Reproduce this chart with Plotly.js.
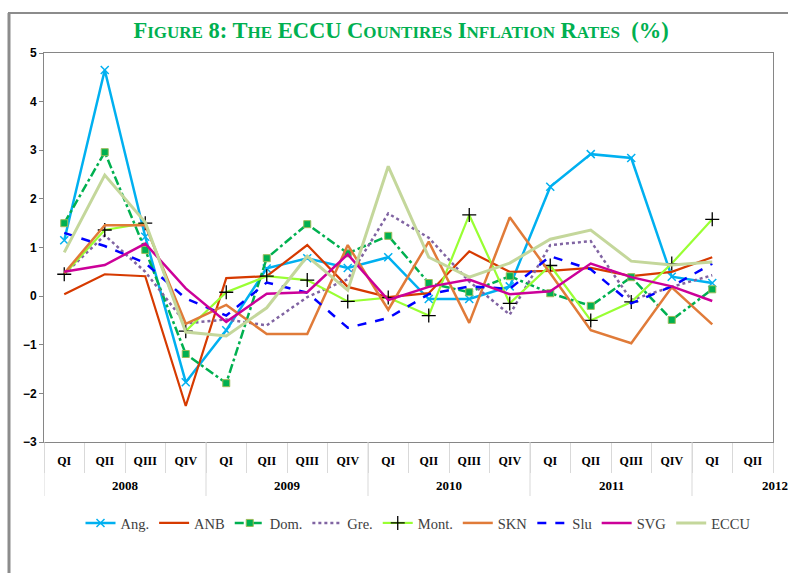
<!DOCTYPE html>
<html>
<head>
<meta charset="utf-8">
<script src="https://cdn.plot.ly/plotly-3.0.1.min.js"></script>
<style>html,body{margin:0;padding:0;background:#fff;}#chart{width:788px;height:573px;}</style>
</head>
<body>
<div id="chart"></div>
<script>
// Quarter labels (18 categories, 2008 QI .. 2012 QII)
const quarters = ["QI","QII","QIII","QIV","QI","QII","QIII","QIV","QI","QII","QIII","QIV","QI","QII","QIII","QIV","QI","QII"];
const years = ["2008","2009","2010","2011","2012"];
const yearCenters = [1.5, 5.5, 9.5, 13.5, 17.4];
const yearShift = [0, 0, 0, 0, 6];

// Series values (%), 2008 QI .. 2012 QI
const ang  = [1.15, 4.65, 1.22, -1.77, -0.70, 0.57, 0.78, 0.58, 0.80, -0.06, -0.06, 0.20, 2.25, 2.92, 2.84, 0.40, 0.27];
const anb  = [0.04, 0.45, 0.41, -2.26, 0.37, 0.41, 1.05, 0.19, -0.02, 0.06, 0.92, 0.50, 0.52, 0.58, 0.41, 0.50, 0.80];
const dom  = [1.50, 2.96, 0.95, -1.19, -1.79, 0.78, 1.48, 0.88, 1.24, 0.27, 0.08, 0.41, 0.06, -0.20, 0.39, -0.49, 0.14];
const gre  = [0.45, 1.25, 0.50, -0.56, -0.48, -0.60, -0.02, 0.35, 1.70, 1.20, 0.30, -0.38, 1.05, 1.13, -0.08, 0.19, 0.43];
const mont = [0.45, 1.36, 1.50, -0.72, 0.08, 0.41, 0.33, -0.11, -0.03, -0.40, 1.67, -0.15, 0.63, -0.50, -0.12, 0.67, 1.58];
const skn  = [0.47, 1.46, 1.46, -0.57, -0.18, -0.78, -0.78, 1.05, -0.28, 1.12, -0.55, 1.62, 0.47, -0.70, -0.97, 0.18, -0.58];
const slu  = [1.30, 1.03, 0.68, -0.05, -0.40, 0.28, 0.07, -0.65, -0.45, 0.04, 0.20, 0.15, 0.82, 0.55, -0.15, 0.20, 0.67];
const svg  = [0.50, 0.64, 1.08, 0.16, -0.53, 0.05, 0.08, 0.86, -0.08, 0.19, 0.34, 0.04, 0.10, 0.67, 0.39, 0.20, -0.10];
const eccu = [0.90, 2.49, 1.52, -0.74, -0.82, -0.24, 0.82, 0.12, 2.67, 0.80, 0.39, 0.68, 1.17, 1.36, 0.72, 0.64, 0.70];

const seriesNames = ["Ang.","ANB","Dom.","Gre.","Mont.","SKN","Slu","SVG","ECCU"];

const idx = quarters.map((q,i)=>i);
const xs = ang.map((v,i)=>i);

function tr(name, y, line, marker){
  const t = {type:'scatter', x: xs, y: y, name: name, line: line, mode: marker ? 'lines+markers' : 'lines'};
  if (marker) t.marker = marker;
  return t;
}

const traces = [
  tr(seriesNames[0], ang,  {color:'#00B0F0', width:2.5}, {symbol:'x-thin-open', size:8, color:'#00B0F0', line:{color:'#00B0F0', width:1.5}}),
  tr(seriesNames[1], anb,  {color:'#D63A00', width:2.2}),
  tr(seriesNames[2], dom,  {color:'#00B050', width:2.5, dash:'dashdot'}, {symbol:'square', size:7, color:'#00B050', line:{color:'#9BBB59', width:1}}),
  tr(seriesNames[3], gre,  {color:'#8064A2', width:2.5, dash:'dot'}),
  tr(seriesNames[4], mont, {color:'#99FF33', width:2.2}, {symbol:'cross-thin-open', size:10, color:'#000000', line:{color:'#000000', width:1.3}}),
  tr(seriesNames[5], skn,  {color:'#E07B39', width:2.5}),
  tr(seriesNames[6], slu,  {color:'#0000FF', width:2.5, dash:'dash'}),
  tr(seriesNames[7], svg,  {color:'#CC0099', width:2.5}),
  tr(seriesNames[8], eccu, {color:'#C4D79B', width:3})
];

// pixel helpers for paper coordinates (plot area 44..773 x 53..442)
const L=44, R=773, T=53, B=442;
const px = v => (v - L)/(R - L);
const py = v => (B - v)/(B - T);

const boundaries = quarters.map((q,i)=>i-0.5).concat([quarters.length-0.5]);
const yearBounds = [-0.5, 3.5, 7.5, 11.5, 15.5];

const shapes = [];
// outer frame
shapes.push({type:'line', xref:'paper', yref:'paper', x0:px(9), x1:px(9), y0:py(13), y1:py(575), line:{color:'#8C8C8C', width:3}});
shapes.push({type:'line', xref:'paper', yref:'paper', x0:px(8), x1:px(790), y0:py(13), y1:py(13), line:{color:'#8C8C8C', width:2}});
// year dividers below the plot
yearBounds.forEach(b=>{
  shapes.push({type:'line', xref:'x', yref:'paper', x0:b, x1:b, y0:0, y1:py(496), line:{color:'#D9D9D9', width:1}});
});

const annotations = years.map((yv,i)=>({
  xref:'x', yref:'paper', x: yearCenters[i], y: py(485), text: yv, showarrow:false,
  xanchor:'center', yanchor:'middle', xshift: yearShift[i],
  font:{family:'Liberation Serif, serif', size:13, color:'#000', weight:'bold'}
}));

const s = t => '<span style="font-size:17px">' + t + '</span>';
const titleText = 'F' + s('IGURE') + ' 8: T' + s('HE') + ' ECCU C' + s('OUNTIRES') + ' I' + s('NFLATION') + ' R' + s('ATES') + '  (%)';

const layout = {
  width:788, height:573,
  margin:{l:L, r:788-R, t:T, b:573-B, pad:0},
  paper_bgcolor:'#ffffff', plot_bgcolor:'#ffffff',
  title:{text:titleText, x:0.509, xanchor:'center', y:1-30/573, yanchor:'middle',
         font:{family:'Liberation Serif, serif', size:22.5, color:'#00B050', weight:'bold'}},
  showlegend:true,
  legend:{orientation:'h', x:px(418), xanchor:'center', y:py(523), yanchor:'middle',
          font:{family:'Liberation Serif, serif', size:14.5, color:'#404040'},
          itemwidth:30, traceorder:'normal', tracegroupgap:0},
  xaxis:{
    range:[-0.5, 17.5], showgrid:false, zeroline:false,
    showline:true, linecolor:'#868686', linewidth:1, mirror:true,
    tickmode:'array', tickvals: idx, ticktext: quarters, ticks:'', ticklen:0,
    tickfont:{family:'Liberation Serif, serif', size:12, color:'#000', weight:'bold'},
    ticklabelstandoff: 8,
    minor:{tickmode:'array', tickvals: boundaries, ticks:'outside', ticklen:30, tickcolor:'#D9D9D9', tickwidth:1, showgrid:false},
    fixedrange:true
  },
  xaxis2:{
    overlaying:'x', anchor:'free', position:py(296), range:[-0.5,17.5],
    showgrid:false, zeroline:false, showline:true, linecolor:'#868686', linewidth:1,
    tickmode:'array', tickvals: boundaries, ticks:'outside', ticklen:4, tickcolor:'#868686',
    showticklabels:false, fixedrange:true
  },
  yaxis:{
    range:[-3,5], dtick:1, showgrid:false, zeroline:false,
    showline:true, linecolor:'#868686', linewidth:1, mirror:true,
    ticks:'outside', ticklen:4, tickcolor:'#868686',
    tickfont:{family:'Liberation Sans, Arial, sans-serif', size:12, color:'#000', weight:'bold'},
    fixedrange:true
  },
  shapes: shapes,
  annotations: annotations
};

Plotly.newPlot('chart', traces, layout, {displayModeBar:false, staticPlot:true});
</script>
</body>
</html>
